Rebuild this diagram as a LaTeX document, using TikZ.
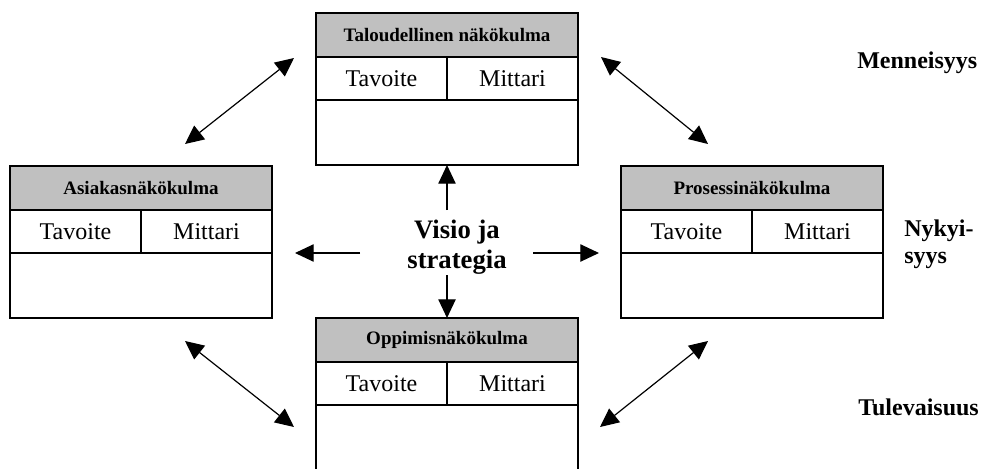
\documentclass[tikz,border=0pt]{standalone}
\usepackage{fontspec}
\setmainfont{Liberation Serif}
\usetikzlibrary{arrows.meta}
\definecolor{hdrgray}{RGB}{192,192,192}
\newcommand\bsckort[4]{%
  \node[hdr] (#1h) at (#2,#3) {#4};
  \node[cell] (#1t) at (#1h.south west) {Tavoite};
  \node[cell] (#1m) at (#1t.north east) {Mittari};
  \node[body] (#1b) at (#1t.south west) {};}
\begin{document}
\begin{tikzpicture}[x=0.75pt,y=-0.75pt,
  hdr/.style={draw,fill=hdrgray,line width=0.9pt,minimum width=196.5pt,minimum height=33pt,inner sep=0pt,outer sep=0pt,anchor=north west,font=\fontsize{14.25}{17}\selectfont\bfseries},
  cell/.style={draw,line width=0.9pt,minimum width=98.25pt,minimum height=32.25pt,inner sep=0pt,outer sep=0pt,anchor=north west,font=\fontsize{18}{21}\selectfont},
  body/.style={draw,line width=0.9pt,minimum width=196.5pt,minimum height=48.75pt,inner sep=0pt,outer sep=0pt,anchor=north west},
  side/.style={font=\fontsize{18}{21}\selectfont\bfseries,inner sep=0pt},
  arr/.style={-{Triangle[length=14pt,width=13pt]},line width=0.9pt},
  dbl/.style={{Triangle[length=14pt,width=13pt]}-{Triangle[length=14pt,width=13pt]},line width=0.9pt}]
\useasboundingbox (0,0) rectangle (982,468);
% boxes
\bsckort{T}{316}{13}{Taloudellinen näkökulma}
\bsckort{L}{10}{166}{Asiakasnäkökulma}
\bsckort{R}{621}{166}{Prosessinäkökulma}
\bsckort{B}{316}{318}{Oppimisnäkökulma}
% centre text
\node[inner sep=0pt,align=center,font=\fontsize{20}{22.5}\selectfont\bfseries] (vis) at (457,247) {Visio ja\\strategia};
% side labels
\node[side,anchor=base west] (past) at (857,68) {Menneisyys};
\node[side,anchor=west,align=left,font=\fontsize{18}{20.25}\selectfont\bfseries] (now) at (904,244) {Nykyi-\\syys};
\node[side,anchor=base west] (fut) at (858,415) {Tulevaisuus};
% arrow coordinates
\coordinate (cu) at (447,210);
\coordinate (cd) at (447,275);
\coordinate (cl) at (360,253);
\coordinate (clt) at (295,253);
\coordinate (cr) at (533,253);
\coordinate (crt) at (599,253);
\coordinate (tl1) at (185,144);
\coordinate (tl2) at (294,58);
\coordinate (tr1) at (601,57);
\coordinate (tr2) at (708,144);
\coordinate (bl1) at (185,341);
\coordinate (bl2) at (294,427);
\coordinate (br1) at (708,341);
\coordinate (br2) at (600,427);
% arrows
\draw[arr] (cu) -- (Tb.south);
\draw[arr] (cd) -- (Bh.north);
\draw[arr] (cl) -- (clt);
\draw[arr] (cr) -- (crt);
\draw[dbl] (tl1) -- (tl2);
\draw[dbl] (tr1) -- (tr2);
\draw[dbl] (bl1) -- (bl2);
\draw[dbl] (br1) -- (br2);
\end{tikzpicture}
\end{document}
